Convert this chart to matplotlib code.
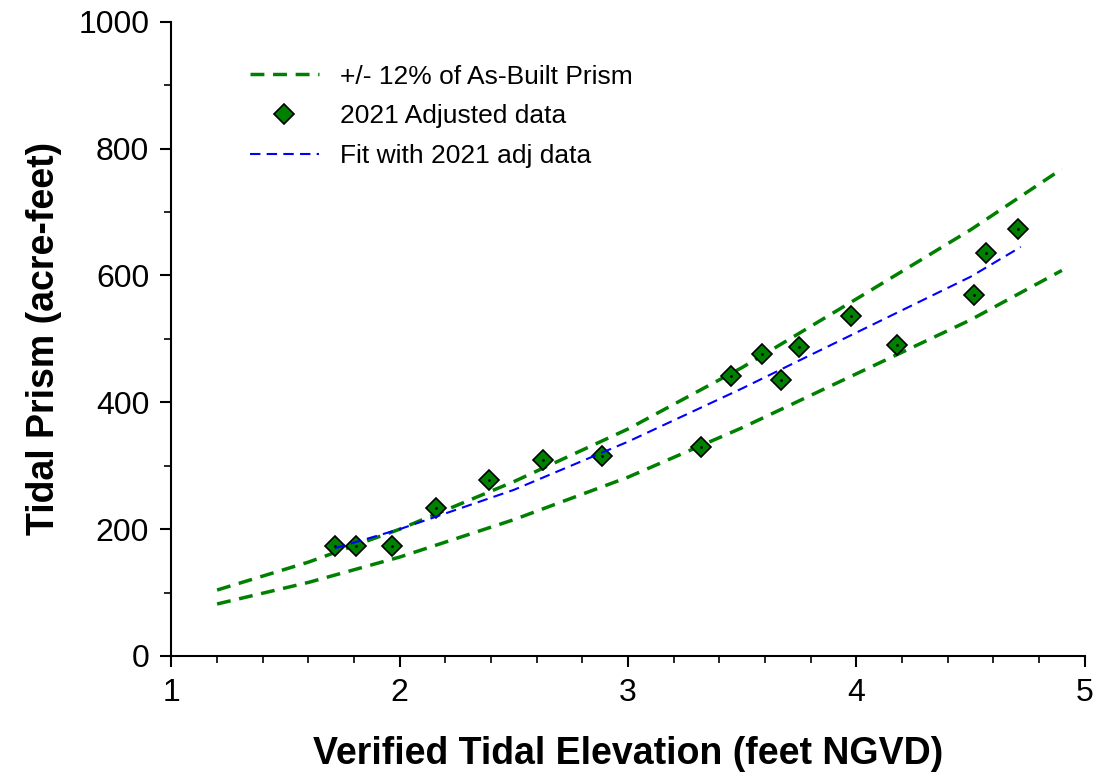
import numpy as np
import matplotlib.pyplot as plt
from matplotlib.pyplot import MultipleLocator

plt.rcParams['font.family'] = ['Liberation Sans', 'DejaVu Sans']

# Data
elev = [1.716, 1.808, 1.965, 2.157, 2.389, 2.629, 2.886, 3.319, 3.450, 3.585,
        3.668, 3.747, 3.978, 4.179, 4.515, 4.568, 4.707]
prism = [173, 173, 173, 233, 277, 309, 316, 329, 441, 476,
         435, 487, 536, 491, 570, 636, 674]

env_x = [1.2, 1.6, 2.0, 2.5, 3.0, 3.5, 4.0, 4.5, 4.9]
env_upper = [104, 148, 200, 275, 358, 455, 563, 672, 768]
env_lower = [82, 116, 156, 215, 282, 360, 445, 530, 608]

fit_x = [1.716, 2.0, 2.5, 3.0, 3.5, 4.0, 4.5, 4.72]
fit_y = [170, 200, 262, 338, 422, 510, 598, 645]

fig = plt.figure(figsize=(10.99, 7.8), dpi=100)
ax = fig.add_axes([0.156, 0.159, 0.831, 0.813])

green = '#008000'
ax.plot(env_x, env_upper, color=green, linestyle=(0, (4, 2.5)), linewidth=2.5,
        label='+/- 12% of As-Built Prism')
ax.plot(env_x, env_lower, color=green, linestyle=(0, (4, 2.5)), linewidth=2.5)
ax.plot(elev, prism, linestyle='none', marker='D', markersize=10, color=green,
        markeredgecolor='black', markeredgewidth=1.2, label='2021 Adjusted data')
ax.plot(elev, prism, linestyle='none', marker='.', markersize=2, color='black')
ax.plot(fit_x, fit_y, color='blue', linestyle=(0, (5, 3)), linewidth=1.5,
        label='Fit with 2021 adj data')

ax.set_xlim(1, 5)
ax.set_ylim(0, 1000)
ax.xaxis.set_major_locator(MultipleLocator(1))
ax.xaxis.set_minor_locator(MultipleLocator(0.2))
ax.yaxis.set_major_locator(MultipleLocator(200))
ax.yaxis.set_minor_locator(MultipleLocator(100))
ax.tick_params(axis='both', which='major', direction='out', length=8, width=1.5, labelsize=23, pad=8)
ax.tick_params(axis='both', which='minor', direction='out', length=5, width=1.2)
for s in ['top', 'right']:
    ax.spines[s].set_visible(False)
for s in ['left', 'bottom']:
    ax.spines[s].set_linewidth(1.5)

ax.set_xlabel('Verified Tidal Elevation (feet NGVD)', fontsize=27, fontweight='bold', labelpad=20)
ax.set_ylabel('Tidal Prism (acre-feet)', fontsize=27, fontweight='bold', labelpad=12)

ax.legend(loc='upper left', bbox_to_anchor=(0.06, 0.97), frameon=False, fontsize=19,
          handlelength=2.6, labelspacing=0.6)

fig.savefig('out.png', dpi=100)
